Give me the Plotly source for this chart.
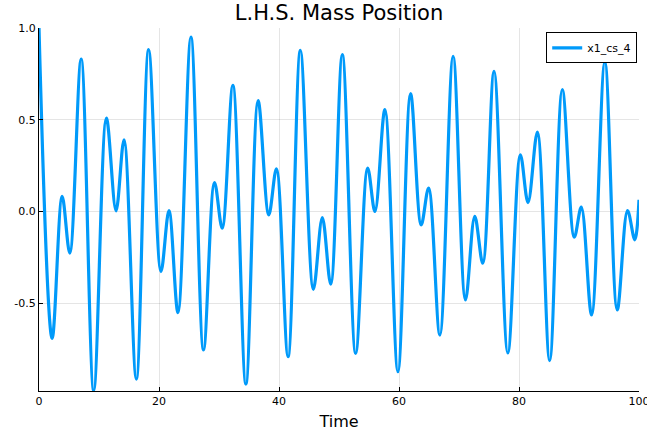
import plotly.graph_objects as go

# Extrema of the L.H.S. mass position (time, value)
time = [0.0, 2.19, 3.86, 5.13, 7.02, 9.12, 11.23, 12.84, 14.17, 16.22, 18.27,
        20.33, 21.66, 23.16, 25.32, 27.42, 29.25, 30.53, 32.31, 34.48, 36.52,
        38.30, 39.57, 41.51, 43.56, 45.73, 47.22, 48.62, 50.55, 52.78, 54.78,
        55.99, 57.65, 59.82, 61.93, 63.70, 64.93, 66.81, 69.02, 71.08, 72.63,
        73.96, 75.84, 78.14, 80.23, 81.50, 83.06, 85.11, 87.22, 89.22, 90.38,
        92.10, 94.31, 96.37, 98.09, 99.30, 100.0]
x1_cs_4 = [1.0, -0.691, 0.082, -0.227, 0.831, -0.976, 0.509, 0.004, 0.391, -0.913, 0.882,
           -0.327, 0.005, -0.551, 0.951, -0.754, 0.158, -0.091, 0.687, -0.940, 0.604,
           -0.018, 0.233, -0.791, 0.878, -0.424, -0.033, -0.396, 0.855, -0.773, 0.237,
           0.0, 0.555, -0.873, 0.642, -0.073, 0.128, -0.673, 0.846, -0.482, -0.027,
           -0.282, 0.764, -0.771, 0.309, 0.049, 0.433, -0.813, 0.664, -0.140, 0.024,
           -0.564, 0.815, -0.536, 0.005, -0.154, 0.064]

x_ticks = [0, 20, 40, 60, 80, 100]
y_ticks = [-0.5, 0.0, 0.5, 1.0]
y_tick_labels = ["-0.5", "0.0", "0.5", "1.0"]

fig = go.Figure()
fig.add_trace(go.Scatter(
    x=time, y=x1_cs_4, mode="lines", name="x1_cs_4",
    line=dict(color="#009AFA", width=3.2, shape="spline", smoothing=1.0),
))

axis_common = dict(
    showgrid=True, gridcolor="rgba(0,0,0,0.1)", gridwidth=1,
    showline=True, linecolor="black", linewidth=1,
    ticks="inside", ticklen=4, tickcolor="black",
    zeroline=False, mirror=False, automargin=False,
    ticklabeloverflow="allow",
    tickfont=dict(family="DejaVu Sans", size=11, color="black"),
)

fig.update_layout(
    width=647, height=433,
    margin=dict(l=38.5, r=7.5, t=28.3, b=42.3, autoexpand=False),
    paper_bgcolor="white", plot_bgcolor="white",
    title=dict(text="L.H.S. Mass Position", x=0.5, xref="paper", y=0.97, yref="container",
               xanchor="center", yanchor="middle",
               font=dict(family="DejaVu Sans", size=21, color="black")),
    xaxis=dict(range=[0, 100], tickvals=x_ticks,
               title=dict(text="Time", font=dict(family="DejaVu Sans", size=16, color="black"), standoff=8),
               **axis_common),
    yaxis=dict(range=[-0.978, 1.0], tickvals=y_ticks, ticktext=y_tick_labels, **axis_common),
    showlegend=True,
    legend=dict(x=0.997, y=0.988, xanchor="right", yanchor="top",
                bgcolor="white", bordercolor="black", borderwidth=1,
                font=dict(family="DejaVu Sans", size=11, color="black"),
                itemwidth=30, tracegroupgap=0),
)

fig.write_html("out.html", config={"displayModeBar": False},
               post_script="document.body.style.margin='0';")
